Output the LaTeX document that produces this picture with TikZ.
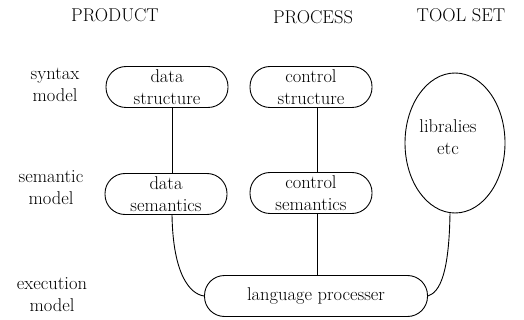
\documentclass[tikz,border=0pt]{standalone}
\usetikzlibrary{shapes.geometric}
\begin{document}
\begin{tikzpicture}[x=1pt,y=-1pt,line width=0.9pt,
  every node/.style={font=\fontsize{18.5}{22}\selectfont, inner sep=0pt},
  pill/.style={draw, rectangle, rounded corners=20pt, minimum width=122pt, minimum height=41pt, align=center},
  lbl/.style={align=center}]
\useasboundingbox (0,0) rectangle (524,320);
% headers
\node (hprod) at (115,15) {PRODUCT};
\node (hproc) at (313,17) {PROCESS};
\node (htool) at (461,15) {TOOL SET};
% row labels
\node[lbl] (lsyn) at (55,85) {syntax\\model};
\node[lbl] (lsem) at (51,188) {semantic\\model};
\node[lbl] (lexe) at (52,295) {execution\\model};
% boxes
\node[pill] (dstruct) at (167,87) {data\\structure};
\node[pill] (cstruct) at (311,87) {control\\structure};
\node[pill] (dsem) at (166,194) {data\\semantics};
\node[pill] (csem) at (311,193) {\raisebox{8pt}{control}\\[-8pt]semantics};
\node[pill, minimum width=223pt] (lp) at (316,296) {language processer};
\node[draw, ellipse, minimum width=100pt, minimum height=140pt] (tools) at (455,143) {};
\node[lbl] (ttext) at (448,137) {libralies\\etc};
% connectors
\draw ([xshift=5pt]dstruct.south) -- ([xshift=6pt]dsem.north);
\draw ([xshift=6pt]cstruct.south) -- ([xshift=6pt]csem.north);
\draw ([xshift=6pt]csem.south) -- ([xshift=6pt]csem.south |- lp.north);
\draw ([xshift=6pt]dsem.south) .. controls +(1,60) and +(-14,-2) .. (lp.west);
\draw ([xshift=-5pt]tools.south) .. controls +(-1,60) and +(12,-4) .. (lp.east);
\end{tikzpicture}
\end{document}
